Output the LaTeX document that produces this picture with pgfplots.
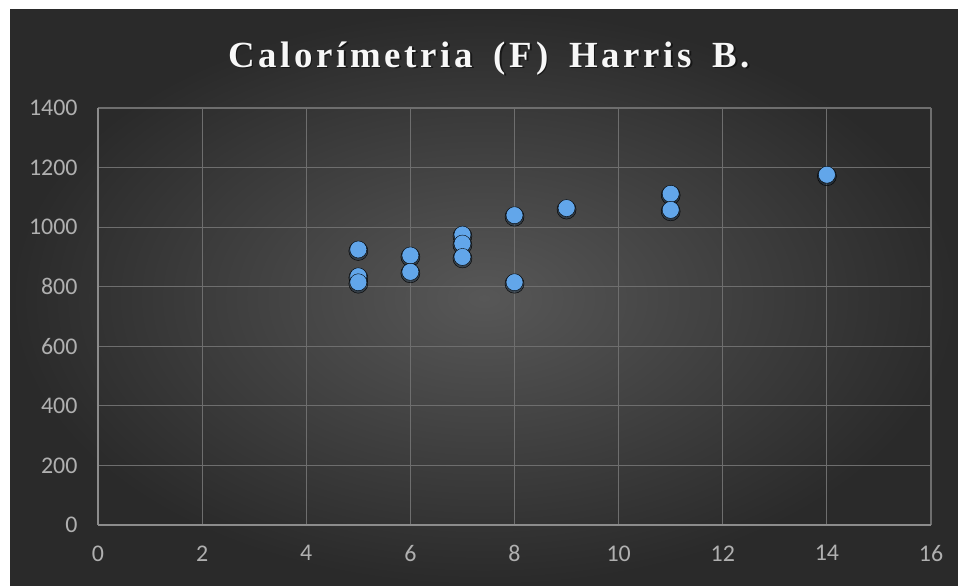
\documentclass[border=0pt]{standalone}
\usepackage{fontspec}
\setmainfont{Liberation Serif}
\newfontfamily\calibri{Carlito}
\newfontfamily\titlefont[LetterSpace=10,WordSpace=1.6]{Liberation Serif}
\usepackage{pgfplots}
\pgfplotsset{compat=1.18}
\definecolor{bginner}{HTML}{575757}
\definecolor{bgouter}{HTML}{2A2A2A}
\definecolor{gridc}{HTML}{6E6E6E}
\definecolor{axisc}{HTML}{8C8C8C}
\definecolor{tickc}{HTML}{B0B0B0}
\definecolor{dotc}{HTML}{62A6EA}
\definecolor{shadowc}{HTML}{0E2A45}
\begin{document}
\begin{tikzpicture}[x=1bp,y=1bp]
\useasboundingbox (0,0) rectangle (958,586);
\fill[white] (0,0) rectangle (958,586);
\shade[inner color=bginner, outer color=bgouter] (10,0) rectangle (958,576);
% title
\node[text=black, opacity=0.5, font=\titlefont\bfseries\fontsize{37}{37}\selectfont] at (490.5,526) {Calorímetria (F) Harris B.};
\node[text=white!94!gray, font=\titlefont\bfseries\fontsize{37}{37}\selectfont] at (489,527.5) {Calorímetria (F) Harris B.};
\begin{axis}[
    at={(98bp,61bp)}, anchor=south west,
    scale only axis,
    width=833bp, height=417bp,
    xmin=0, xmax=16, ymin=0, ymax=1400,
    xtick distance=2, ytick distance=200,
    axis x line=bottom, axis y line=left,
    axis line style={-, axisc, line width=1.6bp},
    grid=major,
    major grid style={gridc, line width=1.2bp},
    major tick length=0pt,
    /pgf/number format/assume math mode=true,
    /pgf/number format/1000 sep={},
    tick label style={font=\calibri\fontsize{24}{24}\selectfont, text=tickc},
    xticklabel style={yshift=-17bp},
    yticklabel style={xshift=-17bp},
    clip=false,
]
\addplot[only marks, mark=*, mark size=9.5bp,
    mark options={draw=none, fill=shadowc, fill opacity=0.35, yshift=-1.5bp}]
    table {
x y
5 925
5 835
5 815
6 905
6 850
7 975
7 945
7 900
8 1040
8 815
9 1064
11 1112
11 1058
14 1176
};
\addplot[only marks, mark=*, mark size=8.5bp,
    mark options={draw=none, fill=dotc}]
    table {
x y
5 925
5 835
5 815
6 905
6 850
7 975
7 945
7 900
8 1040
8 815
9 1064
11 1112
11 1058
14 1176
};
\end{axis}
\end{tikzpicture}
\end{document}
